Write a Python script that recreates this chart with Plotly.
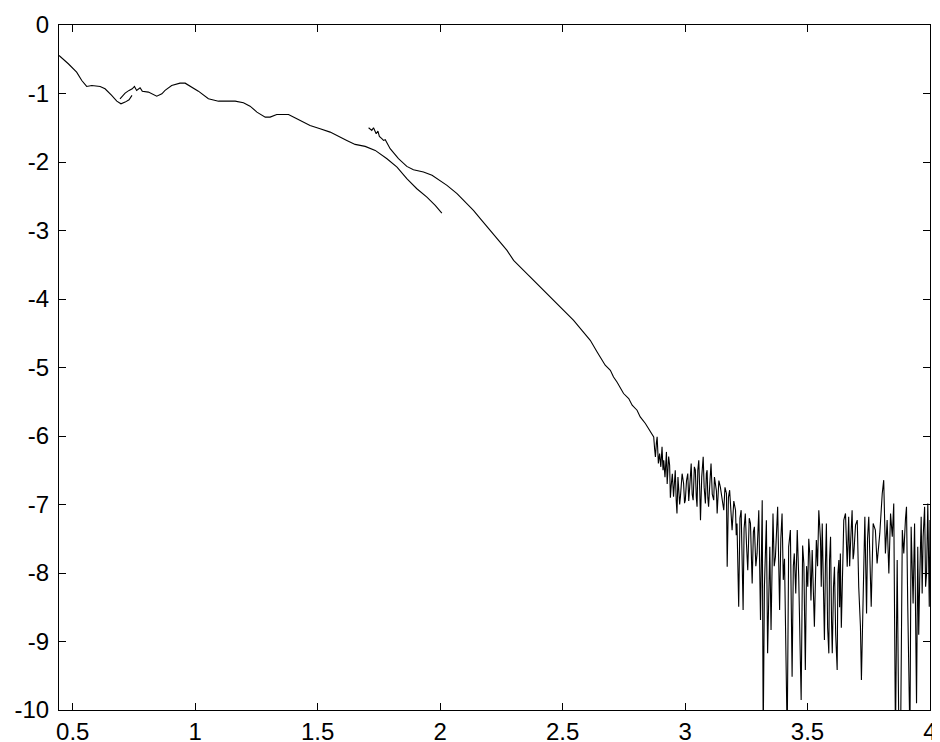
# ================================================= Libraries =========================================================


import plotly.graph_objects as go


# ================================================= Data ==============================================================


# First short branch (left start of the curve), (x, y) pairs.
branch1 = [(0.444, -0.445), (0.482, -0.566), (0.516, -0.689), (0.537, -0.810), (0.557, -0.897), (0.578, -0.883),
           (0.612, -0.897), (0.632, -0.931), (0.659, -1.028), (0.680, -1.112), (0.697, -1.150), (0.714, -1.126),
           (0.730, -1.091), (0.742, -1.028)]

# Second branch, from the overlap near 0.7 up to 2.0.
branch2 = [(0.693, -1.080), (0.714, -0.995), (0.730, -0.955), (0.743, -0.931), (0.752, -0.897), (0.761, -0.955),
           (0.775, -0.916), (0.784, -0.966), (0.809, -0.980), (0.843, -1.039), (0.864, -1.004), (0.877, -0.955),
           (0.904, -0.883), (0.938, -0.849), (0.959, -0.849), (0.986, -0.907), (1.013, -0.966), (1.054, -1.077),
           (1.095, -1.112), (1.163, -1.112), (1.197, -1.135), (1.224, -1.185), (1.252, -1.272), (1.286, -1.345),
           (1.306, -1.345), (1.333, -1.306), (1.381, -1.306), (1.415, -1.368), (1.469, -1.466), (1.510, -1.514),
           (1.551, -1.564), (1.619, -1.685), (1.653, -1.743), (1.694, -1.772), (1.735, -1.831), (1.783, -1.952),
           (1.824, -2.074), (1.864, -2.244), (1.905, -2.390), (1.946, -2.512), (1.980, -2.633), (2.007, -2.745)]

# Third branch, smooth part from 1.7 to about 2.87.
branch3 = [(1.708, -1.500), (1.721, -1.539), (1.728, -1.500), (1.739, -1.587), (1.746, -1.549), (1.752, -1.627),
           (1.762, -1.660), (1.769, -1.685), (1.776, -1.675), (1.796, -1.806), (1.830, -1.952), (1.844, -2.001),
           (1.864, -2.064), (1.891, -2.112), (1.932, -2.147), (1.967, -2.195), (1.987, -2.244), (2.028, -2.341),
           (2.069, -2.462), (2.109, -2.608), (2.136, -2.706), (2.164, -2.827), (2.205, -2.998), (2.232, -3.119),
           (2.273, -3.290), (2.300, -3.436), (2.320, -3.508), (2.368, -3.679), (2.422, -3.873), (2.477, -4.067),
           (2.518, -4.213), (2.545, -4.311), (2.579, -4.457), (2.613, -4.603), (2.641, -4.773), (2.667, -4.919),
           (2.674, -4.967), (2.695, -5.040), (2.708, -5.138), (2.722, -5.211), (2.736, -5.307), (2.749, -5.380),
           (2.770, -5.453), (2.784, -5.551), (2.804, -5.624), (2.817, -5.721), (2.838, -5.818), (2.858, -5.940),
           (2.872, -6.013)]

# Third branch, noisy tail from 2.87 to 4 (dips below -10 are cut by the axis).
tail = [(2.876, -6.20), (2.879, -6.305), (2.883, -6.10), (2.886, -6.013), (2.891, -6.40), (2.896, -6.255),
        (2.901, -6.45), (2.906, -6.159), (2.910, -6.50), (2.913, -6.353), (2.918, -6.60), (2.924, -6.232),
        (2.927, -6.70), (2.929, -6.547), (2.933, -6.30), (2.937, -6.426), (2.940, -6.90), (2.943, -6.743),
        (2.948, -6.55), (2.953, -6.888), (2.957, -6.60), (2.960, -6.499), (2.964, -6.95), (2.967, -7.131),
        (2.971, -6.60), (2.974, -6.743), (2.978, -7.00), (2.981, -6.888), (2.988, -6.55), (2.994, -6.693),
        (2.998, -6.98), (3.001, -6.937), (3.006, -6.65), (3.011, -6.547), (3.015, -6.95), (3.019, -6.743),
        (3.022, -6.55), (3.025, -6.401), (3.029, -6.85), (3.033, -6.937), (3.038, -6.45), (3.042, -6.499),
        (3.046, -6.90), (3.049, -7.034), (3.052, -6.50), (3.056, -6.353), (3.060, -6.80), (3.063, -7.229),
        (3.068, -6.60), (3.074, -6.305), (3.078, -6.75), (3.083, -6.985), (3.087, -6.55), (3.090, -6.499),
        (3.093, -6.90), (3.096, -7.034), (3.101, -6.70), (3.106, -6.401), (3.111, -6.85), (3.117, -6.937),
        (3.120, -6.60), (3.124, -6.693), (3.128, -6.80), (3.131, -7.131), (3.138, -6.65), (3.144, -6.743),
        (3.151, -6.95), (3.158, -7.083), (3.163, -6.75), (3.169, -6.839), (3.172, -7.910), (3.177, -6.90),
        (3.182, -6.791), (3.187, -7.15), (3.192, -7.374), (3.199, -6.95), (3.206, -7.083), (3.209, -7.45),
        (3.212, -7.276), (3.219, -8.493), (3.224, -7.20), (3.229, -7.083), (3.237, -8.541), (3.241, -7.35),
        (3.246, -7.131), (3.251, -7.60), (3.256, -7.958), (3.262, -7.20), (3.267, -7.276), (3.274, -8.152),
        (3.279, -7.40), (3.283, -7.326), (3.289, -7.90), (3.294, -7.714), (3.301, -7.083), (3.308, -8.687),
        (3.315, -6.937), (3.319, -10.4), (3.324, -8.201), (3.332, -7.229), (3.337, -9.173), (3.346, -7.618),
        (3.351, -8.833), (3.359, -7.131), (3.364, -7.90), (3.369, -7.763), (3.378, -7.034), (3.386, -8.541),
        (3.391, -7.50), (3.396, -7.131), (3.401, -8.10), (3.406, -7.793), (3.417, -10.4), (3.423, -7.618),
        (3.430, -7.374), (3.437, -9.514), (3.442, -7.90), (3.446, -7.714), (3.452, -8.30), (3.458, -7.374),
        (3.464, -8.055), (3.474, -9.854), (3.480, -7.60), (3.485, -7.860), (3.491, -9.416), (3.496, -7.90),
        (3.501, -8.201), (3.505, -7.50), (3.509, -7.714), (3.514, -8.40), (3.519, -7.666), (3.528, -8.785),
        (3.532, -7.80), (3.536, -7.520), (3.541, -7.90), (3.546, -7.083), (3.553, -7.520), (3.556, -8.20),
        (3.560, -7.276), (3.565, -8.60), (3.569, -8.979), (3.573, -7.90), (3.577, -7.276), (3.582, -8.80),
        (3.587, -9.173), (3.590, -7.80), (3.594, -7.472), (3.598, -8.70), (3.601, -9.173), (3.606, -8.20),
        (3.610, -7.910), (3.615, -8.90), (3.621, -9.416), (3.624, -8.00), (3.628, -7.812), (3.631, -8.50),
        (3.634, -7.714), (3.638, -8.80), (3.641, -8.298), (3.648, -7.228), (3.655, -7.131), (3.659, -7.80),
        (3.662, -7.910), (3.668, -7.180), (3.672, -7.90), (3.675, -7.618), (3.682, -7.083), (3.686, -7.80),
        (3.689, -7.714), (3.696, -7.30), (3.703, -7.228), (3.709, -8.201), (3.716, -8.785), (3.720, -9.563),
        (3.727, -8.493), (3.734, -7.180), (3.741, -8.590), (3.745, -7.50), (3.750, -7.180), (3.756, -7.90),
        (3.760, -8.493), (3.768, -7.276), (3.777, -7.374), (3.784, -7.860), (3.795, -7.422), (3.805, -6.839),
        (3.811, -6.645), (3.818, -7.714), (3.825, -7.228), (3.832, -8.006), (3.839, -7.131), (3.846, -7.472),
        (3.852, -6.985), (3.859, -10.4), (3.866, -7.812), (3.873, -10.4), (3.880, -10.4), (3.887, -7.374),
        (3.893, -7.714), (3.900, -7.20), (3.904, -7.034), (3.909, -8.444), (3.918, -10.4), (3.923, -7.326),
        (3.931, -8.444), (3.937, -7.276), (3.945, -9.902), (3.950, -7.618), (3.954, -8.90), (3.958, -8.104),
        (3.964, -7.180), (3.968, -8.30), (3.972, -7.472), (3.978, -7.034), (3.982, -8.20), (3.986, -8.006),
        (3.991, -6.985), (3.997, -8.493), (4.000, -7.228)]

# Axis ticks.
x_ticks = [0.5, 1, 1.5, 2, 2.5, 3, 3.5, 4]
x_tick_labels = ['0.5', '1', '1.5', '2', '2.5', '3', '3.5', '4']
y_ticks = [0, -1, -2, -3, -4, -5, -6, -7, -8, -9, -10]
y_tick_labels = ['0', '-1', '-2', '-3', '-4', '-5', '-6', '-7', '-8', '-9', '-10']


# ================================================= Figure ============================================================


fig = go.Figure()

# One trace per branch, thin black lines.
for pts in [branch1, branch2, branch3 + tail]:
    px_, py_ = zip(*pts)
    fig.add_trace(go.Scatter(x=list(px_), y=list(py_), mode='lines',
                             line=dict(color='black', width=1.1),
                             showlegend=False, hoverinfo='skip'))

axis_style = dict(showline=True, linecolor='black', linewidth=1, mirror='ticks',
                  ticks='inside', ticklen=7, tickcolor='black', tickwidth=1,
                  showgrid=False, zeroline=False, automargin=False,
                  tickfont=dict(family='Liberation Sans, Arial, sans-serif', size=24, color='black'))

fig.update_xaxes(range=[0.444, 4.0], tickvals=x_ticks, ticktext=x_tick_labels,
                 ticklabelstandoff=0, **axis_style)
fig.update_yaxes(range=[-10, 0], tickvals=y_ticks, ticktext=y_tick_labels,
                 ticklabelstandoff=4, **axis_style)

# The page body adds an 8px offset, so the figure is slightly smaller than the window.
fig.update_layout(width=932, height=734,
                  margin=dict(l=51, r=10, t=17, b=32),
                  paper_bgcolor='white', plot_bgcolor='white')

fig.write_html("out.html")
